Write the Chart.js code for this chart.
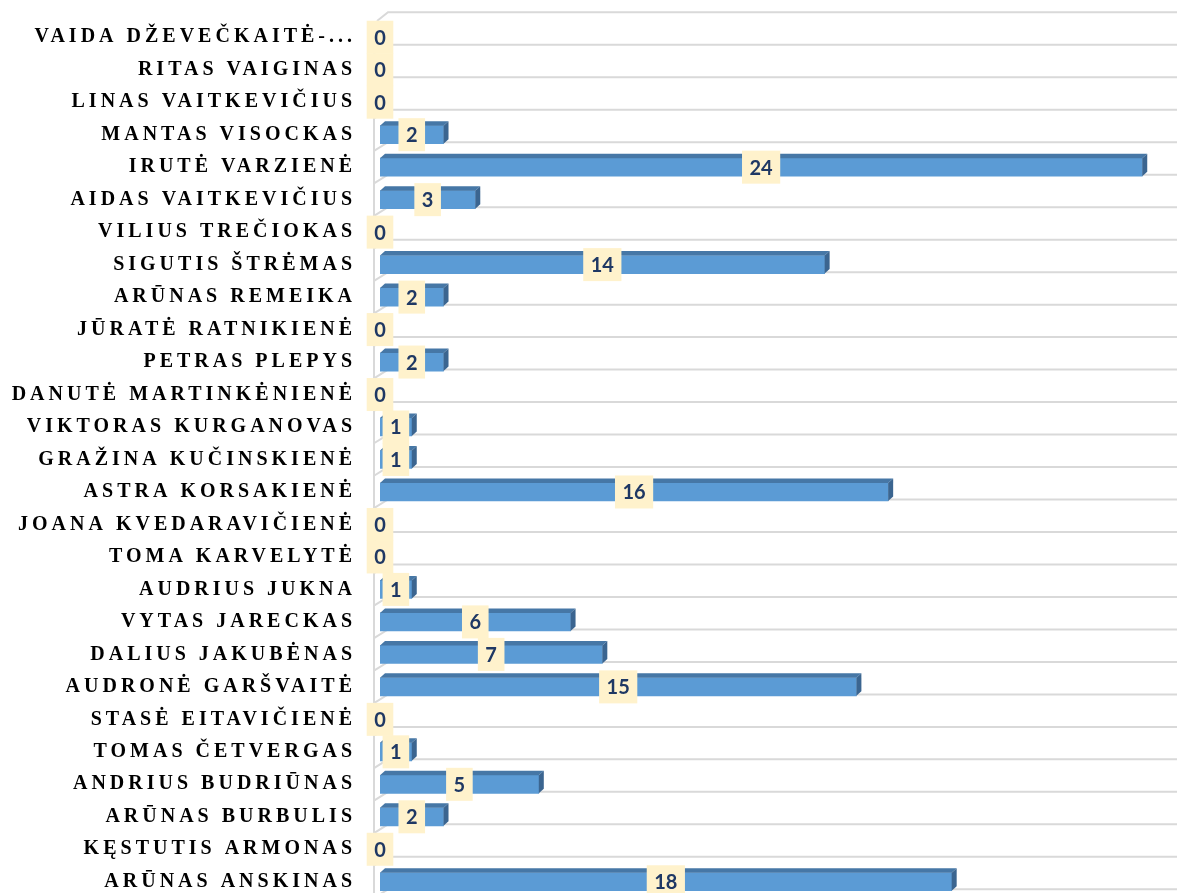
<!DOCTYPE html>
<html>
<head>
<meta charset="utf-8">
<script src="https://cdn.jsdelivr.net/npm/chart.js@4.4.1/dist/chart.umd.min.js"></script>
<style>
    html, body { margin: 0; padding: 0; background: #fff; overflow: hidden; }
    #wrap { width: 1177px; height: 902px; position: relative; }
</style>
</head>
<body>
<div id="wrap"><canvas id="chart"></canvas></div>
<script>
// categories from top to bottom, as in the picture
const names = [
    'VAIDA DŽEVEČKAITĖ-...', 'RITAS VAIGINAS', 'LINAS VAITKEVIČIUS', 'MANTAS VISOCKAS',
    'IRUTĖ VARZIENĖ', 'AIDAS VAITKEVIČIUS', 'VILIUS TREČIOKAS', 'SIGUTIS ŠTRĖMAS',
    'ARŪNAS REMEIKA', 'JŪRATĖ RATNIKIENĖ', 'PETRAS PLEPYS', 'DANUTĖ MARTINKĖNIENĖ',
    'VIKTORAS KURGANOVAS', 'GRAŽINA KUČINSKIENĖ', 'ASTRA KORSAKIENĖ', 'JOANA KVEDARAVIČIENĖ',
    'TOMA KARVELYTĖ', 'AUDRIUS JUKNA', 'VYTAS JARECKAS', 'DALIUS JAKUBĖNAS',
    'AUDRONĖ GARŠVAITĖ', 'STASĖ EITAVIČIENĖ', 'TOMAS ČETVERGAS', 'ANDRIUS BUDRIŪNAS',
    'ARŪNAS BURBULIS', 'KĘSTUTIS ARMONAS', 'ARŪNAS ANSKINAS'
];
const counts = [
    0, 0, 0, 2,
    24, 3, 0, 14,
    2, 0, 2, 0,
    1, 1, 16, 0,
    0, 1, 6, 7,
    15, 0, 1, 5,
    2, 0, 18
];

const FRONT = '#5b9bd5';
const TOP = '#4677a6';
const SIDE = '#3b6590';
const GRID = '#d9d9d9';

// fake 3D: back wall lines, bar top and end faces, label boxes
const threeD = {
    id: 'threeD',
    beforeDraw(chart) {
        chart.ctx.letterSpacing = '4px';
    },
    beforeDatasetsDraw(chart) {
        const ctx = chart.ctx;
        const area = chart.chartArea;
        const step = (area.bottom - area.top) / names.length;
        const wallX = area.left - 6;
        const dx = 12, dy = 8.7;
        ctx.save();
        ctx.letterSpacing = '0px';
        ctx.strokeStyle = GRID;
        ctx.lineWidth = 2;
        ctx.beginPath();
        ctx.moveTo(wallX, area.top);
        ctx.lineTo(wallX, chart.height);
        for (let i = 0; i <= names.length; i++) {
            const yb = area.top + i * step;
            ctx.moveTo(i === 0 ? wallX + 3 : wallX, yb);
            ctx.lineTo(wallX + dx + 2, yb - dy);
            ctx.lineTo(chart.width, yb - dy);
        }
        ctx.stroke();
        ctx.restore();
    },
    afterDatasetsDraw(chart) {
        const ctx = chart.ctx;
        const meta = chart.getDatasetMeta(0);
        const ox = 5, oy = 4.5;
        ctx.save();
        ctx.letterSpacing = '0px';
        meta.data.forEach((bar, i) => {
            if (counts[i] <= 0) return;
            const top = bar.y - bar.height / 2;
            const bottom = bar.y + bar.height / 2;
            ctx.fillStyle = TOP;
            ctx.beginPath();
            ctx.moveTo(bar.base, top);
            ctx.lineTo(bar.x, top);
            ctx.lineTo(bar.x + ox, top - oy);
            ctx.lineTo(bar.base + ox, top - oy);
            ctx.closePath();
            ctx.fill();
            ctx.fillStyle = SIDE;
            ctx.beginPath();
            ctx.moveTo(bar.x, top);
            ctx.lineTo(bar.x + ox, top - oy);
            ctx.lineTo(bar.x + ox, bottom - oy);
            ctx.lineTo(bar.x, bottom);
            ctx.closePath();
            ctx.fill();
        });

        ctx.font = 'bold 20px Lato';
        ctx.textAlign = 'center';
        ctx.textBaseline = 'middle';
        meta.data.forEach((bar, i) => {
            const txt = String(counts[i]);
            const cx = (bar.base + bar.x) / 2;
            const w = ctx.measureText(txt).width + 15;
            const h = 33;
            ctx.fillStyle = '#fff2cc';
            ctx.fillRect(cx - w / 2, bar.y - h / 2, w, h);
            ctx.fillStyle = '#1f3864';
            ctx.fillText(txt, cx, bar.y + 1);
        });
        ctx.restore();
    }
};

new Chart(document.getElementById('chart'), {
    type: 'bar',
    data: {
        labels: names,
        datasets: [{
            data: counts,
            backgroundColor: FRONT,
            borderWidth: 0,
            barThickness: 18
        }]
    },
    options: {
        indexAxis: 'y',
        maintainAspectRatio: false,
        responsive: true,
        animation: false,
        layout: { padding: { top: 21, right: 3, bottom: 4, left: 0 } },
        plugins: {
            legend: { display: false },
            tooltip: { enabled: false }
        },
        scales: {
            x: {
                display: false,
                min: 0,
                max: 25
            },
            y: {
                grid: { display: false, drawTicks: false },
                border: { display: false },
                ticks: {
                    autoSkip: false,
                    padding: 24,
                    color: '#000',
                    font: { family: 'Liberation Serif', weight: 'bold', size: 20 }
                },
                afterFit(scale) {
                    scale.width = 380;
                    scale.paddingTop = 0;
                    scale.paddingBottom = 0;
                }
            }
        }
    },
    plugins: [threeD]
});
</script>
</body>
</html>
